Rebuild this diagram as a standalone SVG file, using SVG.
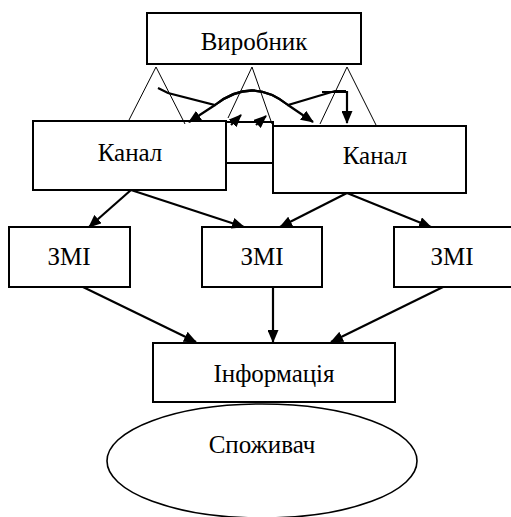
<svg xmlns="http://www.w3.org/2000/svg" width="511" height="517" viewBox="0 0 511 517">
<style>
.box{fill:#fff;stroke:#000;stroke-width:2}
.lbl{font-size:25px;fill:#000;text-anchor:middle}
.thin{fill:none;stroke:#000;stroke-width:1}
.con{fill:none;stroke:#000;stroke-width:2.2}
.arr{marker-end:url(#ah)}
</style>
<defs>
<marker id="ah" markerUnits="userSpaceOnUse" markerWidth="13" markerHeight="11" refX="12" refY="5.5" orient="auto">
<path d="M0,0 L13,5.5 L0,11 z" fill="#000"/>
</marker>
</defs>
<rect width="511" height="517" fill="#fff"/>
<g id="producer"><rect class="box" x="147" y="13" width="214" height="51"/><text class="lbl" font-family="Liberation Serif, DejaVu Serif, serif" x="254" y="50">Виробник</text></g>
<g id="middle-box"><rect class="box" x="226" y="122" width="47" height="41"/></g>
<g id="channel-left"><rect class="box" x="33" y="121" width="193" height="69"/><text class="lbl" font-family="Liberation Serif, DejaVu Serif, serif" x="130" y="161">Канал</text></g>
<g id="channel-right"><rect class="box" x="273" y="126" width="193" height="67"/><text class="lbl" font-family="Liberation Serif, DejaVu Serif, serif" x="375" y="164">Канал</text></g>
<g id="zmi-1"><rect class="box" x="9" y="227" width="121" height="60"/><text class="lbl" font-family="Liberation Serif, DejaVu Serif, serif" x="69" y="265">ЗМІ</text></g>
<g id="zmi-2"><rect class="box" x="202" y="227" width="120" height="60"/><text class="lbl" font-family="Liberation Serif, DejaVu Serif, serif" x="262" y="265">ЗМІ</text></g>
<g id="zmi-3"><rect class="box" x="394" y="227" width="118" height="60"/><text class="lbl" font-family="Liberation Serif, DejaVu Serif, serif" x="452" y="265">ЗМІ</text></g>
<g id="info"><rect class="box" x="153" y="343" width="242" height="59"/><text class="lbl" font-family="Liberation Serif, DejaVu Serif, serif" x="274" y="382">Інформація</text></g>
<g id="consumer"><ellipse fill="#fff" stroke="#000" stroke-width="1.6" cx="262" cy="461" rx="155" ry="57"/><text class="lbl" font-family="Liberation Serif, DejaVu Serif, serif" x="262" y="453">Споживач</text></g>
<g id="connectors">
<path class="thin" d="M129,120 L156,67 L185,124"/>
<path class="thin" d="M228,118 L252,67 L272,124"/>
<path class="thin" d="M320,124 L347,67 L376,125"/>
<path class="con arr" d="M158,88 L168,93 L215,105 Q252,76 288,105 L313,122"/>
<path class="con arr" d="M346,91 L335,91 L288,105 Q252,76 215,105 L189,122"/>
<path class="con arr" d="M322,92 L347,92 L347,123"/>
<path class="con arr" d="M231,125 L241,115"/>
<path class="con arr" d="M256,125 L266,116"/>
<path class="con arr" d="M131,190 L89,227"/>
<path class="con arr" d="M131,190 L244,227"/>
<path class="con arr" d="M347,193 L280,227"/>
<path class="con arr" d="M347,193 L431,227"/>
<path class="con arr" d="M83,287 L196,342"/>
<path class="con arr" d="M273,287 L273,342"/>
<path class="con arr" d="M443,287 L331,342"/>
</g>
</svg>
